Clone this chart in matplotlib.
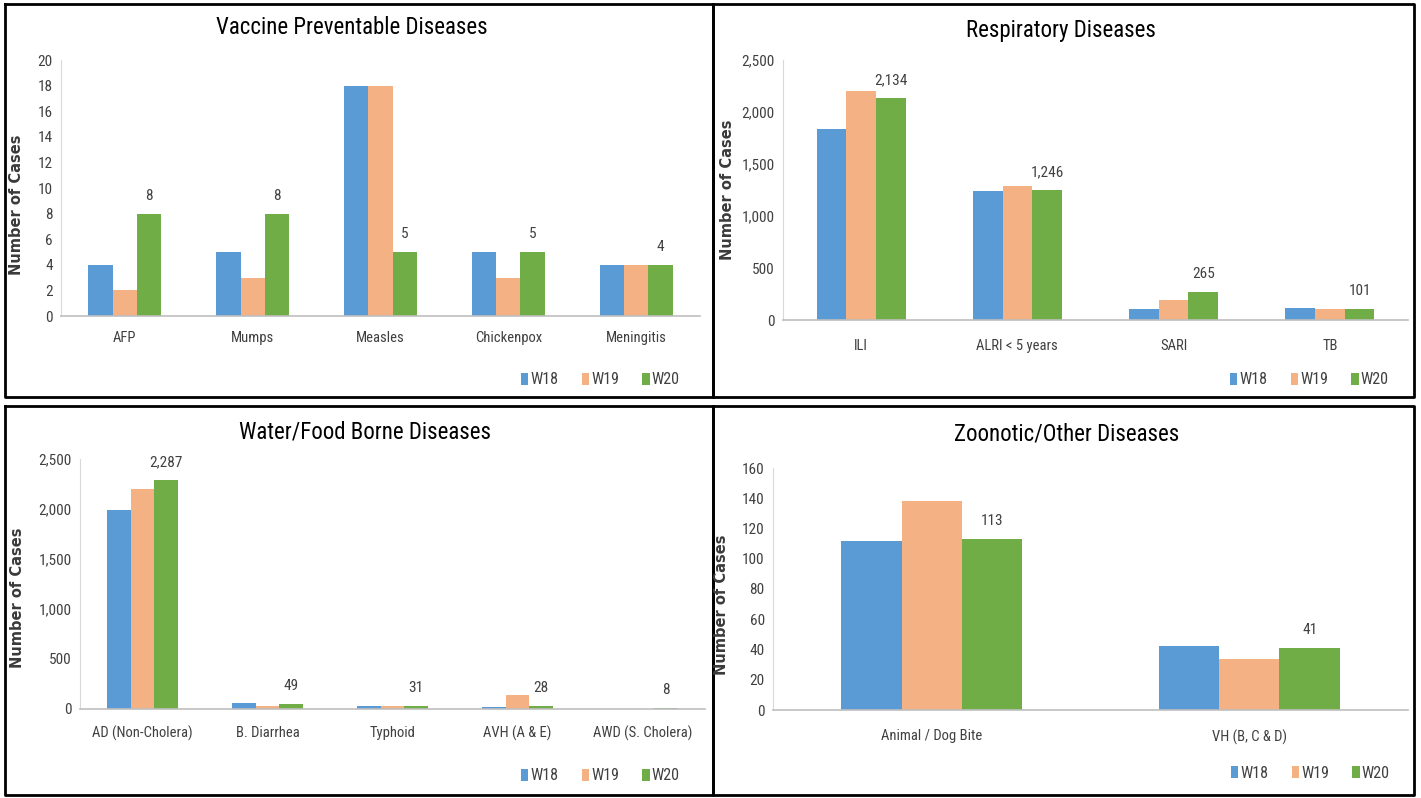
import matplotlib
matplotlib.use("Agg")
import matplotlib.pyplot as plt
from matplotlib import font_manager
from matplotlib.lines import Line2D
from matplotlib.ticker import FuncFormatter

W, H = 1421, 798

weeks = ["W18", "W19", "W20"]
colors = ["#5B9BD5", "#F4B183", "#70AD47"]

vpd_cats = ["AFP", "Mumps", "Measles", "Chickenpox", "Meningitis"]
vpd_w18 = [4, 5, 18, 5, 4]
vpd_w19 = [2, 3, 18, 3, 4]
vpd_w20 = [8, 8, 5, 5, 4]

resp_cats = ["ILI", "ALRI < 5 years", "SARI", "TB"]
resp_w18 = [1840, 1240, 103, 116]
resp_w19 = [2200, 1287, 190, 103]
resp_w20 = [2134, 1246, 265, 101]

wfb_cats = ["AD (Non-Cholera)", "B. Diarrhea", "Typhoid", "AVH (A & E)", "AWD (S. Cholera)"]
wfb_w18 = [1995, 57, 30, 17, 3]
wfb_w19 = [2202, 30, 30, 137, 2]
wfb_w20 = [2287, 49, 31, 28, 8]

zoo_cats = ["Animal / Dog Bite", "VH (B, C & D)"]
zoo_w18 = [112, 42]
zoo_w19 = [138, 34]
zoo_w20 = [113, 41]

# narrowest sans available
installed = {f.name for f in font_manager.fontManager.ttflist}
NARROW = next(f for f in ["Liberation Sans Narrow", "Roboto Condensed", "Liberation Sans", "DejaVu Sans"]
              if f in installed)
TXT = "#404040"


def px_rect(l, t, r, b):
    return [l / W, 1 - b / H, (r - l) / W, (b - t) / H]


def comma(v, pos):
    return f"{int(v):,}"


def panel(fig, box, title, title_xy, ylab_xy, legend_xy, cats, series,
          ymax, ystep, fmt=None, xlab_pad=8):
    ax = fig.add_axes(px_rect(*box))
    bw = 0.19
    x = list(range(len(cats)))
    for k, (vals, c) in enumerate(zip(series, colors)):
        pos = [i + (k - 1) * bw for i in x]
        ax.bar(pos, vals, width=bw, color=c, label=weeks[k], zorder=2)
    # value labels on the latest week only
    for i, v in enumerate(series[2]):
        ax.annotate(f"{v:,}", (i + bw, v), xytext=(0, 13), textcoords="offset points",
                    ha="center", va="center", fontsize=11, color=TXT, family=NARROW)
    ax.set_xlim(-0.5, len(cats) - 0.5)
    ax.set_ylim(0, ymax)
    ax.set_yticks(range(0, ymax + 1, ystep))
    if fmt:
        ax.yaxis.set_major_formatter(FuncFormatter(fmt))
    ax.set_xticks(x)
    ax.set_xticklabels(cats)
    ax.tick_params(length=0, labelcolor=TXT)
    ax.tick_params(axis="y", pad=6, labelsize=11)
    ax.tick_params(axis="x", pad=xlab_pad, labelsize=10.5)
    for lab in ax.get_xticklabels() + ax.get_yticklabels():
        lab.set_family(NARROW)
    for s in ["top", "right"]:
        ax.spines[s].set_visible(False)
    ax.spines["left"].set_color("#D9D9D9")
    ax.spines["bottom"].set_color("#BFBFBF")
    ax.spines["bottom"].set_linewidth(1.2)

    fig.text(title_xy[0] / W, 1 - title_xy[1] / H, title, ha="center", va="center",
             fontsize=16.5, color="#000000", family=NARROW)
    fig.text(ylab_xy[0] / W, 1 - ylab_xy[1] / H, "Number of Cases", rotation=90,
             ha="center", va="center", fontsize=10.5, fontweight="bold", color="#3a3a3a")
    leg = ax.legend(loc="center left", bbox_to_anchor=(legend_xy[0] / W, 1 - legend_xy[1] / H),
                    bbox_transform=fig.transFigure, ncol=3, frameon=False,
                    handlelength=0.45, handleheight=0.85, handletextpad=0.15,
                    columnspacing=1.45, borderpad=0, prop={"family": NARROW, "size": 11.5})
    for t in leg.get_texts():
        t.set_color(TXT)
    return ax


fig = plt.figure(figsize=(W / 100, H / 100), dpi=100)

panel(fig, (61, 60, 700, 316), "Vaccine Preventable Diseases", (352, 27), (17, 205), (513, 380),
      vpd_cats, [vpd_w18, vpd_w19, vpd_w20], 20, 2, xlab_pad=11)
panel(fig, (783, 60, 1408, 320), "Respiratory Diseases", (1061, 31), (727, 190), (1222, 380),
      resp_cats, [resp_w18, resp_w19, resp_w20], 2500, 500, comma, xlab_pad=14)
panel(fig, (80, 459, 705, 709), "Water/Food Borne Diseases", (365, 432), (18, 598), (513, 776),
      wfb_cats, [wfb_w18, wfb_w19, wfb_w20], 2500, 500, comma, xlab_pad=12)
panel(fig, (773, 468, 1408, 710), "Zoonotic/Other Diseases", (1067, 434), (722, 605), (1223, 773),
      zoo_cats, [zoo_w18, zoo_w19, zoo_w20], 160, 20, xlab_pad=14)

# black frames around the four panels
def frame(l, t, r, b):
    xs = [l / W, r / W, r / W, l / W, l / W]
    ys = [1 - t / H, 1 - t / H, 1 - b / H, 1 - b / H, 1 - t / H]
    fig.add_artist(Line2D(xs, ys, color="black", lw=2, transform=fig.transFigure))

frame(4.5, 3.5, 712.5, 396.5)
frame(712.5, 3.5, 1414, 396.5)
frame(4.5, 405.5, 712.5, 795)
frame(712.5, 405.5, 1414, 795)

fig.savefig("out.png", dpi=100)
